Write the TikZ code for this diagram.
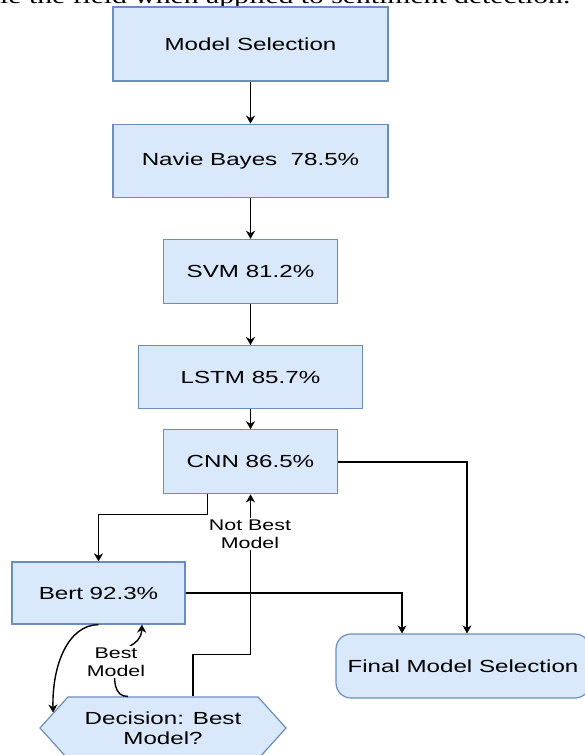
\documentclass[tikz,border=0pt]{standalone}
\usepackage{fontspec}
\setmainfont{Liberation Sans}[FakeStretch=1.38]
\newfontfamily\serifline{Liberation Serif}[FakeStretch=1.38]
\usepackage{xcolor}
\usetikzlibrary{arrows.meta,positioning,shapes.symbols}

\definecolor{boxfill}{HTML}{DAE8FC}
\definecolor{boxline}{HTML}{6C8EBF}

\tikzset{
  stage/.style={draw=boxline, fill=boxfill, line width=1.2pt, inner sep=2pt,
    font=\fontsize{17.5}{20}\selectfont, align=center},
  link/.style={line width=1.4pt, -{Stealth[length=8pt,width=9pt,inset=2.5pt]}},
  tag/.style={fill=white, inner sep=1pt, font=\fontsize{15.5}{18.3}\selectfont, align=center}
}

\begin{document}
\begin{tikzpicture}[x=1pt,y=-1pt]

  \useasboundingbox (0,0) rectangle (585,755);
  \clip (0,0) rectangle (585,755);

  \node[anchor=base west, inner sep=0pt, font=\serifline\fontsize{21.5}{22}\selectfont]
    (txt) at (0,3) {le the field when applied to sentiment detection.};

  % main chain
  \node[stage, minimum width=275pt, minimum height=74pt] (ms) at (250.5,44) {Model Selection};
  \node[stage, minimum width=275pt, minimum height=73pt, below=42pt of ms] (nb) {Navie Bayes\ \ 78.5\%};
  \node[stage, minimum width=174pt, minimum height=64pt, below=41pt of nb] (svm) {SVM 81.2\%};
  \node[stage, minimum width=224pt, minimum height=63pt, below=41pt of svm] (lstm) {LSTM 85.7\%};
  \node[stage, minimum width=174pt, minimum height=64pt, below=20pt of lstm] (cnn) {CNN 86.5\%};

  \node[stage, minimum width=173pt, minimum height=62pt] (bert) at (98.5,593) {Bert 92.3\%};
  \node[stage, rounded corners=15pt, minimum width=254pt, minimum height=64pt] (final) at (463,666) {Final Model Selection};
  \node[stage, signal, signal to=west and east, signal pointer angle=96,
    minimum width=246pt, minimum height=62pt] (dec) at (163,728) {Decision: Best\\Model?};

  \draw[link] (ms) -- (nb);
  \draw[link] (nb) -- (svm);
  \draw[link] (svm) -- (lstm);
  \draw[link] (lstm) -- (cnn);

  \draw[link] (cnn.east) -| ([xshift=4pt]final.north);
  \draw[link] ([xshift=-43pt]cnn.south) -- ++(0,20) -| (bert.north);
  \draw[link] (bert.east) -| ([xshift=-61pt]final.north);

  % loop back through the decision
  \draw[link] (bert.south) .. controls (68,625) and (52,665) .. (dec.172);
  \draw[link] ([xshift=30pt]dec.north) -- ++(0,-42) -| (cnn.south);
  \draw[link] ([xshift=-35pt]dec.north) .. controls (114,697) and (113,680) .. (116,662)
    .. controls (119,645) and (141,648) .. ([xshift=43.5pt]bert.south);

  \node[tag] (nb-lbl) at (250,534) {Not Best\\Model};
  \node[tag] (b-lbl) at (116,662) {Best\\Model};

\end{tikzpicture}
\end{document}
